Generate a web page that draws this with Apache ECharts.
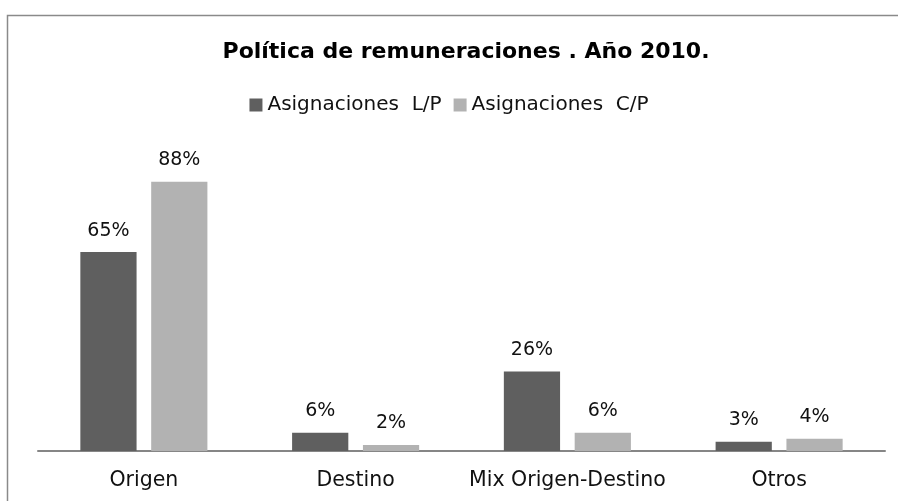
<!DOCTYPE html>
<html>
<head>
    <meta charset="utf-8">
    <title>Politica de remuneraciones</title>
    <script src="https://cdn.jsdelivr.net/npm/echarts@6/dist/echarts.min.js"></script>
    <style>
        html, body { margin: 0; padding: 0; background: #fff; }
        #main { width: 898px; height: 501px; }
    </style>
</head>
<body>
    <div id="main"></div>
    <script type="text/javascript">
        // datos del gráfico
        var categorias = ['Origen', 'Destino', 'Mix Origen-Destino', 'Otros'];
        var asignacionesLP = [65, 6, 26, 3];
        var asignacionesCP = [88, 2, 6, 4];
        var nombresSeries = ['Asignaciones  L/P', 'Asignaciones  C/P'];

        var fuente = '"DejaVu Sans", "Open Sans", sans-serif';

        var myChart = echarts.init(document.getElementById('main'));

        var etiqueta = {
            show: true,
            position: 'top',
            distance: 12,
            formatter: '{c}%',
            fontFamily: fuente,
            fontSize: 19,
            color: '#111'
        };

        var option = {
            backgroundColor: '#fff',
            animation: false,
            graphic: [{
                type: 'rect',
                shape: { x: 7.5, y: 15.5, width: 900, height: 520 },
                style: { fill: 'none', stroke: '#8a8a8a', lineWidth: 1.5 },
                silent: true
            }],
            title: {
                text: 'Política de remuneraciones . Año 2010.',
                left: 461,
                textAlign: 'center',
                top: 36,
                textStyle: {
                    fontFamily: fuente,
                    fontWeight: 'bold',
                    fontSize: 22,
                    color: '#000'
                }
            },
            legend: {
                data: nombresSeries,
                top: 90,
                left: 'center',
                itemWidth: 13,
                itemHeight: 13,
                itemGap: 12,
                icon: 'rect',
                textStyle: {
                    fontFamily: fuente,
                    fontSize: 20,
                    color: '#111'
                }
            },
            grid: {
                left: 38,
                right: 13,
                top: 145,
                bottom: 50
            },
            xAxis: {
                type: 'category',
                data: categorias,
                axisLine: { lineStyle: { color: '#868686', width: 2 } },
                axisTick: { show: false },
                axisLabel: {
                    interval: 0,
                    fontFamily: fuente,
                    fontSize: 20.5,
                    color: '#111',
                    margin: 19
                }
            },
            yAxis: {
                type: 'value',
                min: 0,
                max: 100,
                show: false
            },
            series: [{
                name: nombresSeries[0],
                type: 'bar',
                data: asignacionesLP,
                itemStyle: { color: '#5f5f5f' },
                barGap: '26%',
                barCategoryGap: '40%',
                label: etiqueta
            }, {
                name: nombresSeries[1],
                type: 'bar',
                data: asignacionesCP,
                itemStyle: { color: '#b2b2b2' },
                label: etiqueta
            }]
        };

        myChart.setOption(option);
    </script>
</body>
</html>
